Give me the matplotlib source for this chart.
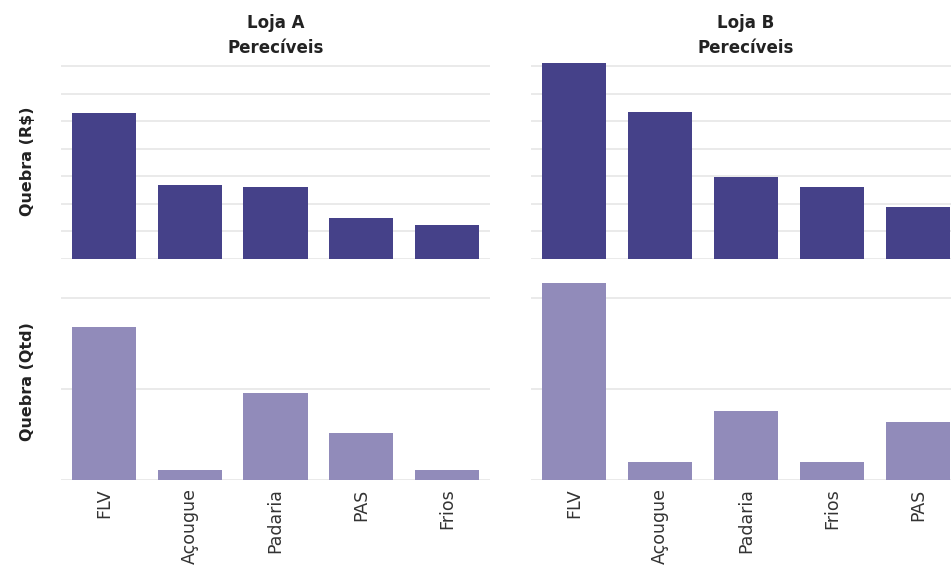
import numpy as np
import matplotlib
matplotlib.use('Agg')
from matplotlib import pyplot as plt

# dados (unidades da grade)
lojas = ['Loja A', 'Loja B']
cat_a = ['FLV', 'Açougue', 'Padaria', 'PAS', 'Frios']
cat_b = ['FLV', 'Açougue', 'Padaria', 'Frios', 'PAS']
valor_a = [5.30, 2.68, 2.61, 1.49, 1.23]
valor_b = [7.12, 5.33, 2.97, 2.61, 1.89]
qtd_a = [1.68, 0.11, 0.96, 0.52, 0.11]
qtd_b = [2.165, 0.20, 0.76, 0.20, 0.64]

cor_valor = '#454189'
cor_qtd = '#918BBA'
cor_grade = '#E6E6E6'

W, H = 951, 571
fig = plt.figure(figsize=(W / 100, H / 100), dpi=100)

def px(x0, y_top, x1, y_bot):
    return [x0 / W, 1 - y_bot / H, (x1 - x0) / W, (y_bot - y_top) / H]

pos = {
    (0, 0): px(61, 63, 490, 259),
    (0, 1): px(531, 63, 961, 259),
    (1, 0): px(61, 283, 490, 480),
    (1, 1): px(531, 283, 961, 480),
}

dados = {
    (0, 0): (cat_a, valor_a, cor_valor),
    (0, 1): (cat_b, valor_b, cor_valor),
    (1, 0): (cat_a, qtd_a, cor_qtd),
    (1, 1): (cat_b, qtd_b, cor_qtd),
}

for (r, c), (cats, vals, cor) in dados.items():
    ax = fig.add_axes(pos[(r, c)])
    x = np.arange(len(cats))
    ax.bar(x, vals, width=0.75, color=cor, zorder=2)
    ax.set_xlim(-0.5, len(cats) - 0.5)
    if r == 0:
        ax.set_ylim(0, 7.12)
        ax.set_yticks(np.arange(0, 8))
    else:
        ax.set_ylim(0, 2.165)
        ax.set_yticks([0, 1, 2])
    ax.grid(axis='y', color=cor_grade, linewidth=1.2, zorder=0)
    ax.set_axisbelow(True)
    for s in ax.spines.values():
        s.set_visible(False)
    ax.tick_params(length=0, labelleft=False)
    if r == 1:
        ax.set_xticks(x)
        ax.set_xticklabels(cats, rotation=90, fontsize=12.5, color='#333333')
        ax.tick_params(axis='x', pad=6)
    else:
        ax.set_xticks([])
        ax.set_title(lojas[c] + '\nPerecíveis', fontsize=12, fontweight='bold',
                     color='#222222', pad=7, linespacing=1.5)
    if c == 0:
        ax.set_ylabel('Quebra (R$)' if r == 0 else 'Quebra (Qtd)', fontsize=11.5,
                      fontweight='bold', color='#222222', labelpad=19)

fig.savefig('out.png', dpi=100)
